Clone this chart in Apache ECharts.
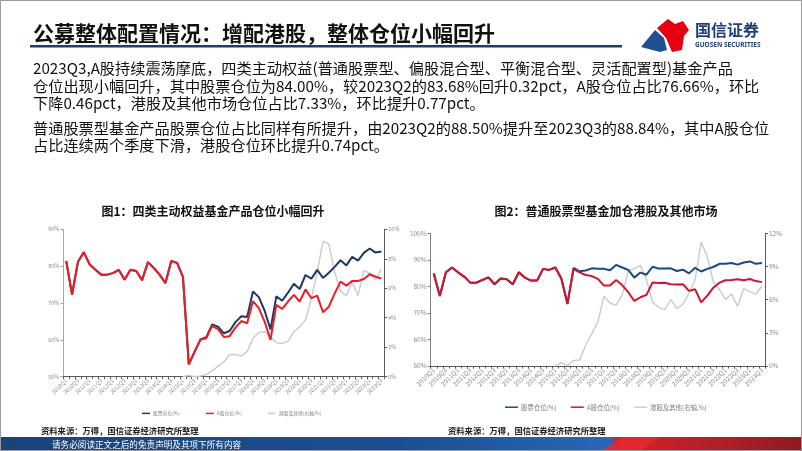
<!DOCTYPE html>
<html><head><meta charset="utf-8">
<script src="https://cdn.jsdelivr.net/npm/echarts@6/dist/echarts.min.js"></script>
<style>html,body{margin:0;padding:0;background:#fff}#c{width:802px;height:451px}</style>
</head><body><div id="c"></div>
<script>
const categories = ['2010Q1','2010Q2','2010Q3','2010Q4','2011Q1','2011Q2','2011Q3','2011Q4','2012Q1','2012Q2','2012Q3','2012Q4','2013Q1','2013Q2','2013Q3','2013Q4','2014Q1','2014Q2','2014Q3','2014Q4','2015Q1','2015Q2','2015Q3','2015Q4','2016Q1','2016Q2','2016Q3','2016Q4','2017Q1','2017Q2','2017Q3','2017Q4','2018Q1','2018Q2','2018Q3','2018Q4','2019Q1','2019Q2','2019Q3','2019Q4','2020Q1','2020Q2','2020Q3','2020Q4','2021Q1','2021Q2','2021Q3','2021Q4','2022Q1','2022Q2','2022Q3','2022Q4','2023Q1','2023Q2','2023Q3'];

const seriesNames = ['股票仓位(%)', 'A股仓位(%)', '港股及其他(右轴,%)'];

// 图1
const stock1 = [81.4,72.3,81.1,83.8,80.5,79.0,77.7,77.7,78.1,79.0,76.3,79.0,78.7,76.2,81.1,79.5,77.7,75.4,81.4,80.9,77.1,53.4,56.8,60.1,60.7,64.2,63.6,61.8,62.4,64.8,66.4,66.2,73.1,71.6,67.9,62.8,71.8,70.6,72.8,75.2,73.8,77.6,76.6,79.0,76.8,78.2,79.8,81.6,80.2,82.5,81.5,83.6,84.8,83.68,84.0];
const ashare1 = [81.4,72.3,81.1,83.8,80.5,79.0,77.7,77.7,78.1,79.0,76.3,79.0,78.7,76.2,81.1,79.5,77.7,75.4,81.4,80.9,77.1,53.3,56.8,60.1,60.5,63.8,62.9,60.8,61.0,63.3,65.1,64.5,70.5,68.6,64.9,60.0,69.5,68.4,70.4,72.2,70.4,73.7,71.3,72.0,67.5,69.0,72.6,75.8,74.7,76.0,76.0,76.5,77.8,77.12,76.66];
const hk1 = [null,null,null,null,null,null,null,null,null,null,null,null,null,null,null,null,null,null,null,null,0,0.1,0,0.05,0.15,0.4,0.7,1.0,1.5,1.5,1.4,1.7,2.6,3.0,3.05,2.7,2.3,2.26,2.4,3.05,3.4,3.85,5.3,7.1,9.2,9.0,7.1,5.8,5.5,6.4,5.5,7.2,7.0,6.56,7.33];

// 图2
const stock2 = [84.9,76.4,85.3,87.1,85.3,83.7,81.4,81.4,82.4,83.4,80.8,83.0,82.7,80.8,85.3,83.3,82.2,82.2,86.6,86.2,87.1,83.1,73.4,87.0,85.7,86.0,86.8,86.6,86.6,86.1,88.1,87.1,86.2,83.3,85.2,84.4,87.4,86.7,86.7,86.8,85.8,86.3,84.9,87.0,85.6,86.6,87.3,88.5,88.5,88.8,88.2,89.0,89.4,88.5,88.84];
const ashare2 = [84.9,76.4,85.3,87.1,85.3,83.7,81.4,81.4,82.4,83.4,80.8,83.0,82.7,80.8,85.3,83.3,82.2,82.2,86.6,86.2,87.1,82.8,73.4,86.5,85.3,84.3,83.9,82.8,80.3,80.3,82.4,80.5,77.8,74.5,75.9,76.8,81.5,81.3,81.4,80.8,80.7,80.8,78.3,78.9,74.0,76.5,79.5,81.4,82.3,82.4,82.7,82.3,82.8,82.0,81.6];
const hk2 = [null,null,null,null,null,null,null,null,null,null,null,null,null,null,null,null,null,null,null,null,0,0.3,0.03,0.5,0.55,1.9,2.9,4.0,6.3,5.7,5.5,6.4,8.6,8.8,9.1,7.8,5.8,5.3,5.1,6.0,5.2,5.6,6.6,7.8,11.2,9.9,7.6,6.9,6.0,6.5,5.4,7.0,6.7,6.5,7.24];

// axis ticks
const leftTicks1 = [50, 60, 70, 80, 90];
const rightTicks1 = [0, 2, 4, 6, 8, 10];
const leftTicks2 = [50, 60, 70, 80, 90, 100];
const rightTicks2 = [0, 3, 6, 9, 12];

const FONT = '"Noto Sans CJK SC", "Noto Sans", sans-serif';
const chart = echarts.init(document.getElementById('c'), null, {renderer: 'canvas'});

function yAxisCfg(gi, ticks, pos, fs, lineColor) {
  return {
    type: 'value', gridIndex: gi, position: pos,
    min: ticks[0], max: ticks[ticks.length - 1], interval: ticks[1] - ticks[0],
    axisLine: {show: true, lineStyle: {color: lineColor, width: 1}},
    axisTick: {show: true, length: 3, lineStyle: {color: lineColor}},
    splitLine: {show: false},
    axisLabel: {formatter: '{value}%', fontSize: fs, color: '#8c8c8c', fontFamily: FONT, margin: 4}
  };
}
function xAxisCfg(gi, fs) {
  return {
    type: 'category', gridIndex: gi, data: categories, boundaryGap: true,
    axisLine: {show: true, lineStyle: {color: '#595959', width: 1}},
    axisTick: {show: true, interval: 0, length: 2.5, lineStyle: {color: '#595959'}},
    axisLabel: {interval: 1, rotate: 45, fontSize: fs, color: '#8c8c8c', fontFamily: FONT, margin: 3}
  };
}
function lineS(name, data, xi, yi, color, width, z) {
  return {
    name, type: 'line', data, xAxisIndex: xi, yAxisIndex: yi, z,
    symbol: 'none', smooth: false, connectNulls: false,
    lineStyle: {color, width}, itemStyle: {color}
  };
}

const red1 = '#ee1c25', blue1 = '#1b3a66', gray1 = '#c9ced6';
const red2 = '#d4142c', blue2 = '#174a82', gray2 = '#c9ced6';

function legendCfg(left, top, fs, iw, gap, colors) {
  return {
    left, top, icon: 'rect', itemWidth: iw, itemHeight: 1.5, itemGap: gap,
    textStyle: {fontSize: fs, color: '#7f7f7f', fontFamily: FONT, padding: [0, 0, 0, -2]},
    data: seriesNames.map((n, i) => ({name: n, itemStyle: {color: colors[i]}, lineStyle: {color: colors[i]}}))
  };
}

const paraFont = '15.2px "Noto Sans CJK SC"';
const paraLines = [
  ['2023Q3,A股持续震荡摩底，四类主动权益(普通股票型、偏股混合型、平衡混合型、灵活配置型)基金产品', 68],
  ['仓位出现小幅回升，其中股票仓位为84.00%，较2023Q2的83.68%回升0.32pct，A股仓位占比76.66%，环比', 86],
  ['下降0.46pct，港股及其他市场仓位占比7.33%，环比提升0.77pct。', 103],
  ['普通股票型基金产品股票仓位占比同样有所提升，由2023Q2的88.50%提升至2023Q3的88.84%，其中A股仓位', 128],
  ['占比连续两个季度下滑，港股仓位环比提升0.74pct。', 145]
];

const graphics = [
  {type: 'rect', shape: {x: 0.5, y: 0.5, width: 801, height: 450}, style: {fill: 'none', stroke: '#9b9b9b', lineWidth: 1}, z: 100},
  {type: 'text', style: {text: '公募整体配置情况：增配港股，整体仓位小幅回升', x: 33, y: 33, font: 'bold 21px "Noto Sans CJK SC"', fill: '#111', textVerticalAlign: 'middle', verticalAlign: 'middle'}},
  {type: 'rect', shape: {x: 30, y: 45, width: 592, height: 2.5}, style: {fill: '#1f3c70'}},
  // logo
  {type: 'polygon', shape: {points: [[641,47],[655,30],[664,38],[667,50],[660,52]]}, style: {fill: '#1d4f91'}},
  {type: 'polygon', shape: {points: [[657,28],[668,19],[675,24],[683,21],[689,30],[684,36],[682,50],[672,52],[666,38]]}, style: {fill: '#e60012'}},
  {type: 'text', style: {text: '国信证券', x: 695, y: 30, font: 'bold 16px "Noto Sans CJK SC"', fill: '#1e3f78', textVerticalAlign: 'middle', verticalAlign: 'middle'}},
  {type: 'text', style: {text: 'GUOSEN SECURITIES', x: 695, y: 45, font: 'bold 6.5px "Noto Sans"', fill: '#1e3f78', textVerticalAlign: 'middle', verticalAlign: 'middle'}},
  // chart titles
  {type: 'text', style: {text: '图1：四类主动权益基金产品仓位小幅回升', x: 213, y: 211, font: 'bold 12px "Noto Sans CJK SC"', fill: '#111', textAlign: 'center', align: 'center', textVerticalAlign: 'middle', verticalAlign: 'middle'}},
  {type: 'text', style: {text: '图2：普通股票型基金加仓港股及其他市场', x: 606, y: 211, font: 'bold 12px "Noto Sans CJK SC"', fill: '#111', textAlign: 'center', align: 'center', textVerticalAlign: 'middle', verticalAlign: 'middle'}},
  // sources
  {type: 'text', style: {text: '资料来源：万得，国信证券经济研究所整理', x: 41, y: 431, font: 'bold 8.3px "Noto Sans CJK SC"', fill: '#222', textVerticalAlign: 'middle', verticalAlign: 'middle'}},
  {type: 'text', style: {text: '资料来源：万得，国信证券经济研究所整理', x: 448, y: 431, font: 'bold 8.3px "Noto Sans CJK SC"', fill: '#222', textVerticalAlign: 'middle', verticalAlign: 'middle'}},
  // footer
  {type: 'rect', shape: {x: 0, y: 437, width: 802, height: 14}, style: {fill: new echarts.graphic.LinearGradient(0, 0, 1, 0, [
    {offset: 0, color: '#1a4478'}, {offset: 0.5, color: '#1c4f92'}, {offset: 0.76, color: '#2a66b8'}, {offset: 0.77, color: '#d3232b'}, {offset: 0.9, color: '#b11f27'}, {offset: 1, color: '#8e1a20'}])}},
  {type: 'polygon', shape: {points: [[600,451],[625,437],[660,437],[640,451]]}, style: {fill: '#e52a30', opacity: 0.8}},
  {type: 'text', style: {text: '请务必阅读正文之后的免责声明及其项下所有内容', x: 52, y: 444.5, font: '8.6px "Noto Sans CJK SC"', fill: '#ffffff', textVerticalAlign: 'middle', verticalAlign: 'middle'}}
];
paraLines.forEach(([t, y]) => graphics.push({type: 'text', style: {text: t, x: 33, y, font: paraFont, fill: '#111', textVerticalAlign: 'middle', verticalAlign: 'middle'}}));

chart.setOption({
  animation: false,
  textStyle: {fontFamily: FONT},
  grid: [
    {left: 63.3, top: 229.3, width: 321, height: 147.4, containLabel: false},
    {left: 430.7, top: 233.3, width: 334.3, height: 132.7, containLabel: false}
  ],
  xAxis: [xAxisCfg(0, 5.5), xAxisCfg(1, 6.5)],
  yAxis: [
    yAxisCfg(0, leftTicks1, 'left', 5.5, '#a6a6a6'),
    yAxisCfg(0, rightTicks1, 'right', 5.5, '#595959'),
    yAxisCfg(1, leftTicks2, 'left', 6.5, '#7f7f7f'),
    yAxisCfg(1, rightTicks2, 'right', 6.5, '#595959')
  ],
  legend: [
    legendCfg(137, 406, 4.8, 8, 26, [blue1, red1, gray1]),
    legendCfg(500, 399, 6.4, 13, 14, [blue2, red2, gray2])
  ],
  graphic: {elements: graphics},
  series: [
    lineS(seriesNames[2], hk1, 0, 1, gray1, 1.5, 1),
    lineS(seriesNames[0], stock1, 0, 0, blue1, 2, 2),
    lineS(seriesNames[1], ashare1, 0, 0, red1, 2, 3),
    lineS(seriesNames[2], hk2, 1, 3, gray2, 1.5, 1),
    lineS(seriesNames[0], stock2, 1, 2, blue2, 2, 2),
    lineS(seriesNames[1], ashare2, 1, 2, red2, 2, 3)
  ]
});
</script></body></html>
